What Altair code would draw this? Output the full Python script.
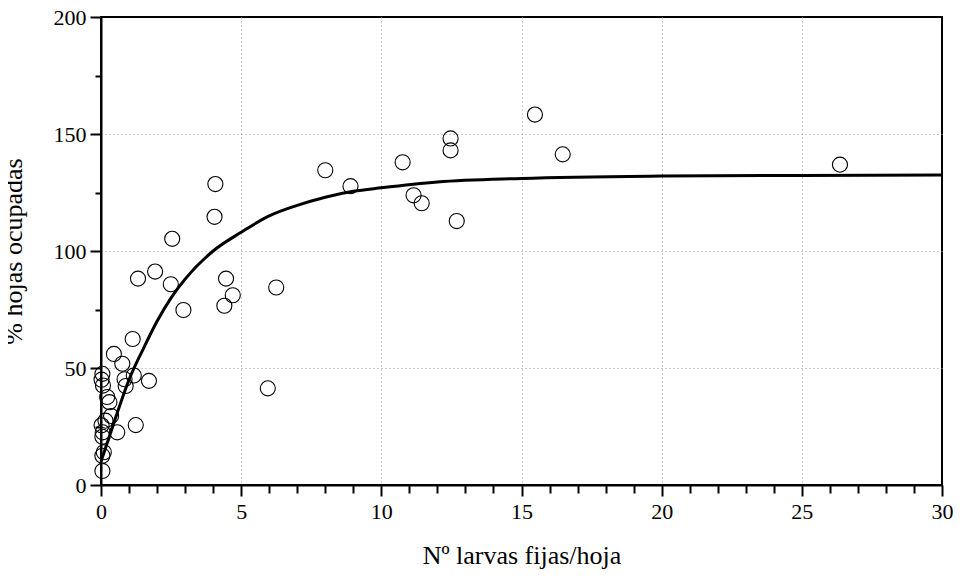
import altair as alt
import pandas as pd

# Observed points: larvae fixed per leaf vs % occupied leaves
larvas = [15.48, 12.47, 12.47, 16.47, 10.76, 8.0, 8.9, 11.15, 11.44, 12.69,
          26.36, 4.08, 4.05, 2.54, 1.93, 1.32, 2.49, 4.46, 4.70, 4.40,
          2.94, 6.25, 5.95, 1.13, 1.71, 1.24, 0.46, 0.76, 1.17, 0.84,
          0.88, 0.05, 0.02, 0.07, 0.22, 0.30, 0.36, 0.16, 0.02, 0.06,
          0.58, 0.05, 0.10, 0.05, 0.05]
hojas = [158.3, 148.1, 143.0, 141.3, 137.9, 134.5, 127.7, 123.8, 120.4, 112.8,
         136.9, 128.6, 114.6, 105.2, 91.2, 88.2, 85.8, 88.2, 81.1, 76.6,
         74.8, 84.4, 41.3, 62.4, 44.5, 25.6, 56.0, 51.8, 46.8, 45.2,
         42.3, 47.5, 45.0, 42.5, 37.6, 35.4, 29.5, 27.5, 25.5, 22.5,
         22.5, 20.6, 14.0, 12.5, 6.0]

# Fitted curve
curva_x = [0, 0.25, 0.5, 1, 1.5, 2, 2.5, 3, 4, 5, 6, 7, 8, 9, 10, 12, 15, 20, 25, 30]
curva_y = [10, 19, 28, 45, 58, 70, 80, 88, 100, 108, 115, 119.5, 123, 125.5, 127,
           129.5, 131, 132, 132.3, 132.5]

# Axis tick values
x_ticks = list(range(0, 31))
y_ticks = list(range(0, 201, 25))

pts = pd.DataFrame({"x": larvas, "y": hojas})
fit = pd.DataFrame({"x": curva_x, "y": curva_y})

FONT = "Liberation Serif"

xscale = alt.Scale(domain=[0, 30], nice=False, zero=False)
yscale = alt.Scale(domain=[0, 200], nice=False, zero=False)

xaxis = alt.Axis(
    title="Nº larvas fijas/hoja",
    values=x_ticks,
    labelExpr="datum.value % 5 === 0 ? datum.label : ''",
    labelOverlap=False,
    labelFlush=False,
    tickSize={"condition": {"test": "datum.value % 5 === 0", "value": 11}, "value": 8},
    tickColor="black",
    tickWidth=2,
    domainColor="black",
    domainWidth=2,
    grid=True,
    gridColor="#999999",
    gridDash=[1, 3],
    gridWidth=1,
    gridOpacity={"condition": {"test": "datum.value % 5 === 0 && datum.value > 0 && datum.value < 30",
                               "value": 1}, "value": 0},
    labelFont=FONT,
    labelFontSize=22,
    labelColor="black",
    labelPadding=5,
    titleFont=FONT,
    titleFontSize=26,
    titleFontWeight="normal",
    titleColor="black",
    titlePadding=20,
)

yaxis = alt.Axis(
    title="% hojas ocupadas",
    values=y_ticks,
    labelExpr="datum.value % 50 === 0 ? datum.label : ''",
    labelOverlap=False,
    labelFlush=False,
    tickSize={"condition": {"test": "datum.value % 50 === 0", "value": 11}, "value": 6},
    tickColor="black",
    tickWidth=2,
    domainColor="black",
    domainWidth=2,
    grid=True,
    gridColor="#999999",
    gridDash=[1, 3],
    gridWidth=1,
    gridOpacity={"condition": {"test": "datum.value % 50 === 0 && datum.value > 0 && datum.value < 200",
                               "value": 1}, "value": 0},
    labelFont=FONT,
    labelFontSize=22,
    labelColor="black",
    labelPadding=4,
    titleFont=FONT,
    titleFontSize=26,
    titleFontWeight="normal",
    titleColor="black",
    titlePadding=27,
)

points = alt.Chart(pts).mark_point(
    shape="circle", filled=False, size=227, color="black", strokeWidth=1.1, opacity=1
).encode(
    x=alt.X("x:Q", scale=xscale, axis=xaxis),
    y=alt.Y("y:Q", scale=yscale, axis=yaxis),
)

line = alt.Chart(fit).mark_line(
    color="black", strokeWidth=3, interpolate="monotone"
).encode(
    x=alt.X("x:Q", scale=xscale, axis=xaxis),
    y=alt.Y("y:Q", scale=yscale, axis=yaxis),
)

chart = alt.layer(points, line).properties(
    width=841,
    height=468,
    autosize=alt.AutoSizeParams(type="none"),
    padding={"left": 93, "top": 9, "right": 12, "bottom": 85},
    background="white",
).configure_view(
    stroke="black",
    strokeWidth=2,
)

chart.save("out.html", embed_options={"renderer": "svg", "actions": False})
